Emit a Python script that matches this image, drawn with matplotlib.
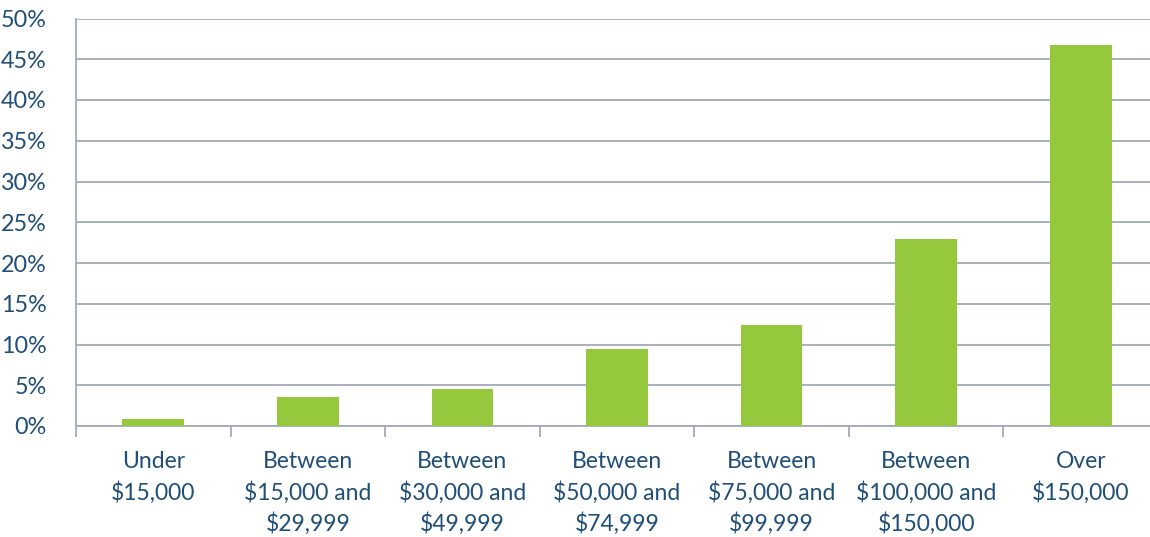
import matplotlib
matplotlib.use("Agg")
import matplotlib.pyplot as plt
import numpy as np

# dati
categories = ["Under\n$15,000", "Between\n$15,000 and\n$29,999", "Between\n$30,000 and\n$49,999",
              "Between\n$50,000 and\n$74,999", "Between\n$75,000 and\n$99,999",
              "Between\n$100,000 and\n$150,000", "Over\n$150,000"]
values = [0.9, 3.6, 4.5, 9.4, 12.4, 22.9, 46.7]
yticks = [0, 5, 10, 15, 20, 25, 30, 35, 40, 45, 50]

text_col = "#1F4E79"
grid_col = "#A3AAB9"
bar_col = "#95C83D"

plt.rcParams["font.family"] = ["Lato", "DejaVu Sans"]

fig = plt.figure(figsize=(11.5, 5.37), dpi=100)
ax = fig.add_axes([76 / 1150, 1 - 426 / 537, (1158 - 76) / 1150, (426 - 18.5) / 537])

x = np.arange(len(categories))
ax.bar(x, values, width=0.4, color=bar_col, zorder=3)

ax.set_xlim(-0.5, len(categories) - 0.5)
ax.set_ylim(0, 50)
ax.set_yticks(yticks)
ax.set_yticklabels([f"{t}%" for t in yticks], color=text_col, fontsize=16.8)
ax.yaxis.grid(True, color=grid_col, linewidth=1.3, zorder=0)
ax.tick_params(axis="y", length=0, pad=21)

# etichette categorie centrate, tick ai confini
ax.set_xticks(x)
ax.set_xticklabels(categories, color=text_col, fontsize=16.5, linespacing=1.48, va="top")
ax.tick_params(axis="x", which="major", length=0, pad=18)
ax.set_xticks(np.arange(len(categories) + 1) - 0.5, minor=True)
ax.tick_params(axis="x", which="minor", length=8, color=grid_col, width=1.3)

for s in ["top", "right"]:
    ax.spines[s].set_visible(False)
ax.spines["left"].set_color(grid_col)
ax.spines["left"].set_linewidth(1.3)
ax.spines["bottom"].set_color(grid_col)
ax.spines["bottom"].set_linewidth(1.3)
ax.spines["left"].set_bounds(0, 50)

fig.savefig("out.png", dpi=100)
